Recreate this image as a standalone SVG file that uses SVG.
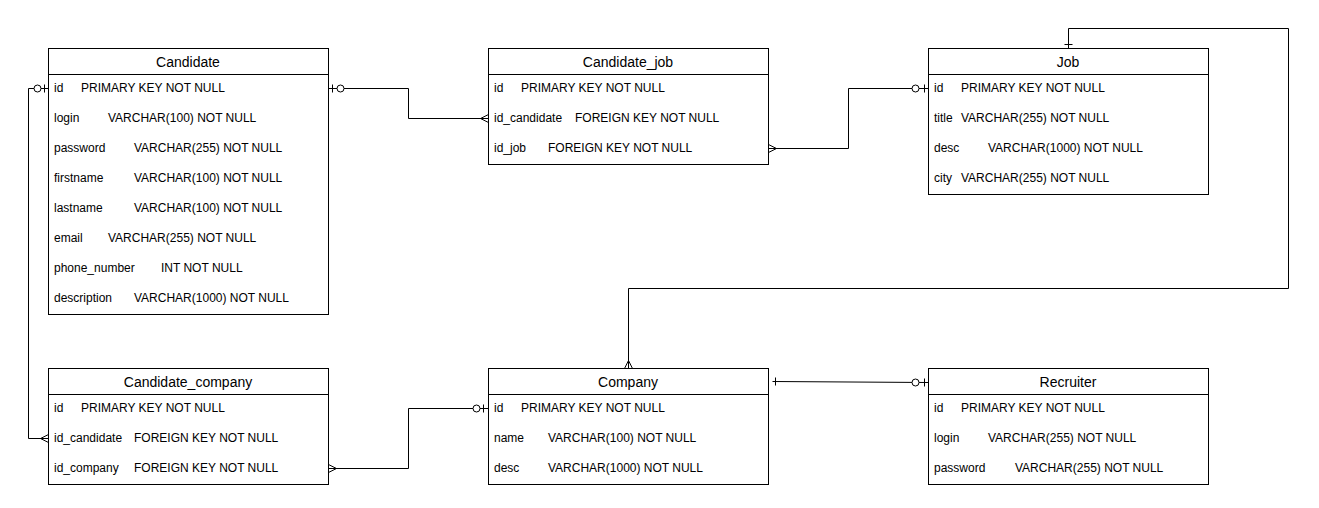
<svg xmlns="http://www.w3.org/2000/svg" width="1319" height="508" viewBox="0 0 1319 508">
<style>
.box{fill:#fff;stroke:#000;stroke-width:1}
.hdr{font-family:"Liberation Sans",Arial,sans-serif;font-size:14px;text-anchor:middle;fill:#000}
.row{font-family:"Liberation Sans",Arial,sans-serif;font-size:12px;fill:#000}
.ln{fill:none;stroke:#000;stroke-width:1}
.circ{fill:#fff;stroke:#000;stroke-width:1}
</style>
<rect width="1319" height="508" fill="#fff"/>
<g id="connectors">
  <!-- Candidate.id -> Candidate_company.id_candidate -->
  <path class="ln" d="M48.5 88.5 H28.5 V438.5 H48.5"/>
  <path class="ln" d="M44.5 84.5 V92.5"/>
  <circle class="circ" cx="37.5" cy="88.5" r="3.5"/>
  <path class="ln" d="M48.5 434.5 L40.5 438.5 L48.5 442.5"/>
  <!-- Candidate.id -> Candidate_job.id_candidate -->
  <path class="ln" d="M328.5 88.5 H408.5 V118.5 H488.5"/>
  <path class="ln" d="M332.5 84.5 V92.5"/>
  <circle class="circ" cx="340.5" cy="88.5" r="3.5"/>
  <path class="ln" d="M488.5 114.5 L480.5 118.5 L488.5 122.5"/>
  <!-- Candidate_job.id_job -> Job.id -->
  <path class="ln" d="M768.5 148.5 H848.5 V88.5 H928.5"/>
  <path class="ln" d="M768.5 144.5 L776.5 148.5 L768.5 152.5"/>
  <circle class="circ" cx="915.5" cy="88.5" r="3.5"/>
  <path class="ln" d="M924.5 84.5 V92.5"/>
  <!-- Job -> Company -->
  <path class="ln" d="M1068.5 48.5 V28.5 H1288.5 V288.5 H628.5 V368.5"/>
  <path class="ln" d="M1064.5 44.5 H1072.5"/>
  <path class="ln" d="M624.5 368.5 L628.5 360.5 L632.5 368.5"/>
  <!-- Company -> Recruiter -->
  <path class="ln" d="M772.5 381.5 L928.5 382.5"/>
  <path class="ln" d="M775.5 377.5 V385.5"/>
  <circle class="circ" cx="915.5" cy="382.5" r="3.5"/>
  <path class="ln" d="M924.5 378.5 V386.5"/>
  <!-- Candidate_company.id_company -> Company.id -->
  <path class="ln" d="M328.5 468.5 H408.5 V408.5 H488.5"/>
  <path class="ln" d="M328.5 464.5 L336.5 468.5 L328.5 472.5"/>
  <circle class="circ" cx="476.5" cy="408.5" r="3.5"/>
  <path class="ln" d="M483.5 404.5 V412.5"/>
</g>
<g id="Candidate">
  <rect class="box" x="48.5" y="48.5" width="280" height="266"/>
  <path class="ln" d="M48.5 74.5 H328.5"/>
  <text class="hdr" x="188" y="67">Candidate</text>
  <text class="row" x="54" y="92">id</text><text class="row" x="81" y="92">PRIMARY KEY NOT NULL</text>
  <text class="row" x="54" y="122">login</text><text class="row" x="108" y="122">VARCHAR(100) NOT NULL</text>
  <text class="row" x="54" y="152">password</text><text class="row" x="134" y="152">VARCHAR(255) NOT NULL</text>
  <text class="row" x="54" y="182">firstname</text><text class="row" x="134" y="182">VARCHAR(100) NOT NULL</text>
  <text class="row" x="54" y="212">lastname</text><text class="row" x="134" y="212">VARCHAR(100) NOT NULL</text>
  <text class="row" x="54" y="242">email</text><text class="row" x="108" y="242">VARCHAR(255) NOT NULL</text>
  <text class="row" x="54" y="272">phone_number</text><text class="row" x="161" y="272">INT NOT NULL</text>
  <text class="row" x="54" y="302">description</text><text class="row" x="134" y="302">VARCHAR(1000) NOT NULL</text>
</g>
<g id="Candidate_job">
  <rect class="box" x="488.5" y="48.5" width="280" height="116"/>
  <path class="ln" d="M488.5 74.5 H768.5"/>
  <text class="hdr" x="628" y="67">Candidate_job</text>
  <text class="row" x="494" y="92">id</text><text class="row" x="521" y="92">PRIMARY KEY NOT NULL</text>
  <text class="row" x="494" y="122">id_candidate</text><text class="row" x="575" y="122">FOREIGN KEY NOT NULL</text>
  <text class="row" x="494" y="152">id_job</text><text class="row" x="548" y="152">FOREIGN KEY NOT NULL</text>
</g>
<g id="Job">
  <rect class="box" x="928.5" y="48.5" width="280" height="146"/>
  <path class="ln" d="M928.5 74.5 H1208.5"/>
  <text class="hdr" x="1068" y="67">Job</text>
  <text class="row" x="934" y="92">id</text><text class="row" x="961" y="92">PRIMARY KEY NOT NULL</text>
  <text class="row" x="934" y="122">title</text><text class="row" x="961" y="122">VARCHAR(255) NOT NULL</text>
  <text class="row" x="934" y="152">desc</text><text class="row" x="988" y="152">VARCHAR(1000) NOT NULL</text>
  <text class="row" x="934" y="182">city</text><text class="row" x="961" y="182">VARCHAR(255) NOT NULL</text>
</g>
<g id="Candidate_company">
  <rect class="box" x="48.5" y="368.5" width="280" height="116"/>
  <path class="ln" d="M48.5 394.5 H328.5"/>
  <text class="hdr" x="188" y="387">Candidate_company</text>
  <text class="row" x="54" y="412">id</text><text class="row" x="81" y="412">PRIMARY KEY NOT NULL</text>
  <text class="row" x="54" y="442">id_candidate</text><text class="row" x="134" y="442">FOREIGN KEY NOT NULL</text>
  <text class="row" x="54" y="472">id_company</text><text class="row" x="134" y="472">FOREIGN KEY NOT NULL</text>
</g>
<g id="Company">
  <rect class="box" x="488.5" y="368.5" width="280" height="116"/>
  <path class="ln" d="M488.5 394.5 H768.5"/>
  <text class="hdr" x="628" y="387">Company</text>
  <text class="row" x="494" y="412">id</text><text class="row" x="521" y="412">PRIMARY KEY NOT NULL</text>
  <text class="row" x="494" y="442">name</text><text class="row" x="548" y="442">VARCHAR(100) NOT NULL</text>
  <text class="row" x="494" y="472">desc</text><text class="row" x="548" y="472">VARCHAR(1000) NOT NULL</text>
</g>
<g id="Recruiter">
  <rect class="box" x="928.5" y="368.5" width="280" height="116"/>
  <path class="ln" d="M928.5 394.5 H1208.5"/>
  <text class="hdr" x="1068" y="387">Recruiter</text>
  <text class="row" x="934" y="412">id</text><text class="row" x="961" y="412">PRIMARY KEY NOT NULL</text>
  <text class="row" x="934" y="442">login</text><text class="row" x="988" y="442">VARCHAR(255) NOT NULL</text>
  <text class="row" x="934" y="472">password</text><text class="row" x="1015" y="472">VARCHAR(255) NOT NULL</text>
</g>
</svg>
